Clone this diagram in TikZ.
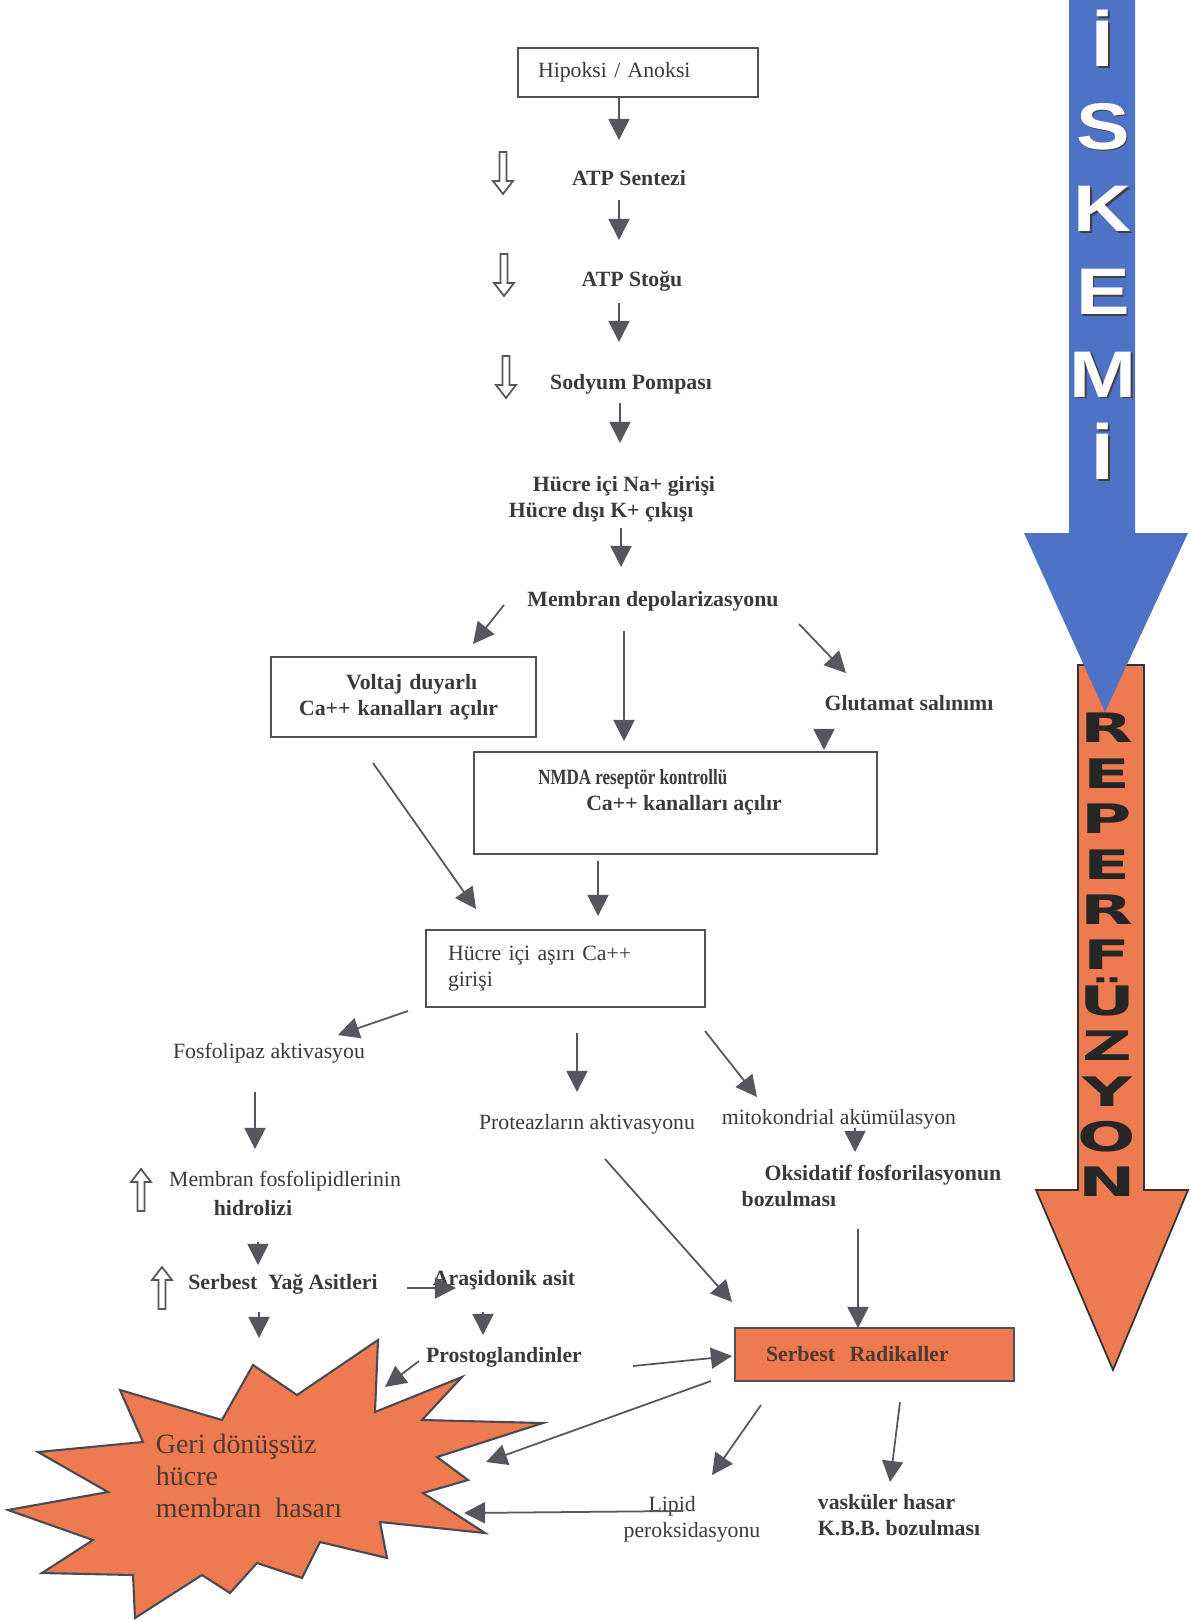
\documentclass[tikz,border=0pt]{standalone}
\usepackage{graphicx}
\usepackage{fontspec}
\setmainfont{Liberation Serif}
\newfontfamily\iskfont{Liberation Sans}
\newfontfamily\heavyfont{DejaVu Sans}
\usetikzlibrary{arrows.meta}

\definecolor{ink}{HTML}{3A3A3E}
\definecolor{arrgray}{HTML}{55565E}
\definecolor{boxgray}{HTML}{505055}
\definecolor{hasar}{HTML}{EE7A50}
\definecolor{iskblue}{HTML}{4D72C6}
\definecolor{stargray}{HTML}{4A4A55}
\definecolor{starink}{HTML}{4E3A33}

\tikzset{
  lbl/.style={font=\bfseries\fontsize{12.4}{14.8}\selectfont, text=ink, inner sep=2pt},
  lblr/.style={font=\fontsize{12.4}{14.8}\selectfont, text=ink, inner sep=2pt},
  box/.style={draw=boxgray, line width=1pt, inner ysep=0pt},
  arr/.style={draw=arrgray, line width=1pt, -{Triangle[length=12pt,width=12pt]}},
  hollow/.style={draw=arrgray, line width=1pt, fill=white},
  hollowdn/.pic={\path[hollow] (-3.5,0) -- (-3.5,29) -- (-10,29) -- (0,42) -- (10,29) -- (3.5,29) -- (3.5,0) -- cycle;},
  iskletter/.style={font=\iskfont\bfseries\fontsize{37.5}{47}\selectfont, align=center, anchor=north, inner sep=0pt, xscale=1.22},
  reperletter/.style={font=\heavyfont\bfseries\fontsize{34}{38}\selectfont, text=black!85, align=center, anchor=north, inner sep=0pt, yscale=0.68, xscale=1.15},
}

\begin{document}
\begin{tikzpicture}[x=0.02cm, y=-0.02cm]
\fill[white] (0,0) rectangle (1190,1622);
\useasboundingbox (0,0) rectangle (1190,1622);

% side arrows
\draw[fill=hasar, draw=black!80, line width=1pt] (1078,665) -- (1144,665) -- (1144,1190) -- (1188,1190) -- (1113,1370) -- (1036,1190) -- (1078,1190) -- cycle;
\fill[iskblue] (1069,0) -- (1135,0) -- (1135,533) -- (1188,533) -- (1105,712) -- (1024,533) -- (1069,533) -- cycle;
\node[iskletter, text=black!75] (iskshadow) at (1104.5,11.5) {İ\\S\\K\\E\\M\\İ};
\node[iskletter, text=white] (iskemi) at (1103,10) {İ\\S\\K\\E\\M\\İ};
\node[reperletter] (reper) at (1107,713) {R\\E\\P\\E\\R\\F\\Ü\\Z\\Y\\O\\N};

% star
\draw[fill=hasar, draw=stargray, line width=1.2pt, line join=miter]
  (120,1390) -- (222,1420) -- (253,1365) -- (297,1395) -- (378,1340) -- (375,1412)
  -- (462,1377) -- (422,1420) -- (543,1423) -- (437,1457) -- (468,1480) -- (423,1493)
  -- (485,1533) -- (380,1522) -- (387,1558) -- (320,1542) -- (302,1578) -- (257,1563)
  -- (230,1593) -- (202,1575) -- (135,1618) -- (133,1575) -- (42,1573) -- (93,1540)
  -- (8,1510) -- (108,1492) -- (38,1452) -- (143,1442) -- cycle;
\node[font=\fontsize{15.9}{18.2}\selectfont, text=starink, align=left, inner sep=0pt] (geri) at (249,1476) {Geri dönüşsüz\\hücre\\membran\ \ hasarı};

% nodes
\node[box, lblr, align=left, text width=4cm, inner xsep=0.4cm, minimum height=0.98cm] (hip) at (638,72.5) {Hipoksi / Anoksi};
\node[lbl] (atp1) at (629,178) {ATP Sentezi};
\node[lbl] (atp2) at (632,281) {ATP Stoğu};
\node[lbl] (pompa) at (631,384) {Sodyum Pompası};
\node[lbl, align=left] (nak) at (612,499) {\hspace*{0.48cm}Hücre içi Na+ girişi\\Hücre dışı K+ çıkışı};
\node[lbl] (depol) at (653,601) {Membran depolarizasyonu};
\node[box, lbl, align=left, text width=4.18cm, inner xsep=0.56cm, minimum height=1.6cm] (voltaj) at (403.5,697) {\hspace*{0.94cm}Voltaj duyarlı\\Ca++ kanalları açılır};
\node[lbl] (glut) at (909,703) {Glutamat salınımı};
\node[box, minimum width=8.06cm, minimum height=2.04cm] (nmda) at (675.5,803) {};
\node[lbl, align=left] (nmdat) at (660,792) {\scalebox{0.78}[1]{NMDA reseptör kontrollü}\\\hspace*{0.96cm}Ca++ kanalları açılır};
\node[box, lblr, align=left, text width=4.7cm, inner xsep=0.44cm, minimum height=1.54cm] (ca) at (565.5,968.5) {Hücre içi aşırı Ca++\\girişi};
\node[lblr] (fosf) at (269,1053) {Fosfolipaz aktivasyou};
\node[lblr] (prot) at (587,1124) {Proteazların aktivasyonu};
\node[lblr] (mito) at (839,1119) {mitokondrial akümülasyon};
\node[lbl, align=left] (oks) at (871.5,1185.5) {\hspace*{0.46cm}Oksidatif fosforilasyonun\\bozulması};
\node[lblr] (memfos) at (285,1181) {Membran fosfolipidlerinin};
\node[lbl] (hidro) at (253,1208) {hidrolizi};
\node[lbl] (sya) at (283,1284) {Serbest\ \ Yağ Asitleri};
\node[lbl] (ara) at (504,1280) {Araşidonik asit};
\node[lbl] (prost) at (504,1357) {Prostoglandinler};
\node[box, lbl, fill=hasar, text=starink, align=left, text width=4.34cm, inner xsep=0.62cm, minimum height=1.06cm] (rad) at (874.5,1354.5) {Serbest\ \ Radikaller};
\node[lblr, align=left] (lipid) at (692,1519) {\hspace*{0.5cm}Lipid\\peroksidasyonu};
\node[lbl, align=left] (vask) at (899,1515) {vasküler hasar\\K.B.B. bozulması};

% hollow arrows
\pic at (503,152) {hollowdn};
\pic at (504,254) {hollowdn};
\pic at (506,356) {hollowdn};
\pic[yscale=-1] at (141,1211) {hollowdn};
\pic[yscale=-1] at (162,1309) {hollowdn};

% connectors
\draw[arr] ([shift={(-19,25.5)}]hip.center) -- ([shift={(-10,-38)}]atp1.center);
\draw[arr] ([shift={(-10,22)}]atp1.center) -- ([shift={(-13,-41)}]atp2.center);
\draw[arr] ([shift={(-13,22)}]atp2.center) -- ([shift={(-12,-42)}]pompa.center);
\draw[arr] ([shift={(-11,19)}]pompa.center) -- ([shift={(8,-56)}]nak.center);
\draw[arr] ([shift={(9,29)}]nak.center) -- ([shift={(-32,-34)}]depol.center);
\draw[arr] ([shift={(-149,4)}]depol.center) -- ([shift={(69.5,-53)}]voltaj.center);
\draw[arr] ([shift={(-29,30)}]depol.center) -- ([shift={(-51.5,-62)}]nmda.center);
\draw[arr] ([shift={(146,23)}]depol.center) -- ([shift={(-63,-30)}]glut.center);
\draw[arr] ([shift={(-85,27)}]glut.center) -- ([shift={(148.5,-53)}]nmda.center);
\draw[arr] ([shift={(-30.5,66)}]voltaj.center) -- ([shift={(-89.5,-59.5)}]ca.center);
\draw[arr] ([shift={(-77.5,58)}]nmda.center) -- ([shift={(32.5,-52.5)}]ca.center);
\draw[arr] ([shift={(-157.5,42.5)}]ca.center) -- ([shift={(69,-18)}]fosf.center);
\draw[arr] ([shift={(11.5,64.5)}]ca.center) -- ([shift={(-10,-32)}]prot.center);
\draw[arr] ([shift={(139.5,62.5)}]ca.center) -- ([shift={(-82,-22)}]mito.center);
\draw[arr] ([shift={(-14,39)}]fosf.center) -- ([shift={(-30,-32)}]memfos.center);
\draw[arr] ([shift={(16,9)}]mito.center) -- ([shift={(-16.5,-33.5)}]oks.center);
\draw[arr] ([shift={(5,34)}]hidro.center) -- ([shift={(-25,-19)}]sya.center);
\draw[arr] ([shift={(124,4)}]sya.center) -- ([shift={(-48,8)}]ara.center);
\draw[arr] ([shift={(-24,28)}]sya.center) -- ([shift={(10,-138)}]geri.center);
\draw[arr] ([shift={(-21,32)}]ara.center) -- ([shift={(-21,-22)}]prost.center);
\draw[arr] ([shift={(-85,4)}]prost.center) -- ([shift={(136,-89)}]geri.center);
\draw[arr] ([shift={(129,9)}]prost.center) -- ([shift={(-142.5,1.5)}]rad.center);
\draw[arr] ([shift={(18,35)}]prot.center) -- ([shift={(-142.5,-52.5)}]rad.center);
\draw[arr] ([shift={(-13.5,43.5)}]oks.center) -- ([shift={(-16.5,-26.5)}]rad.center);
\draw[arr] ([shift={(-163.5,26.5)}]rad.center) -- ([shift={(237,-14)}]geri.center);
\draw[arr] ([shift={(-113.5,50.5)}]rad.center) -- ([shift={(20,-44)}]lipid.center);
\draw[arr] ([shift={(25.5,47.5)}]rad.center) -- ([shift={(-9,-33)}]vask.center);
\draw[arr] ([shift={(-9,-8)}]lipid.center) -- ([shift={(215,37)}]geri.center);
\end{tikzpicture}
\end{document}
